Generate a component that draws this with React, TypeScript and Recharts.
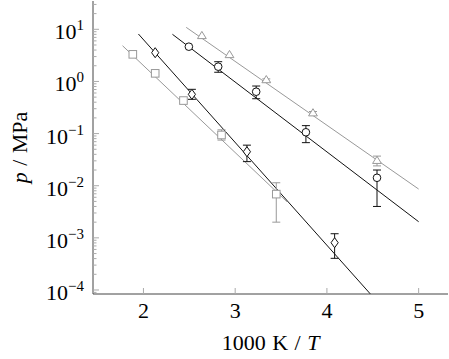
import { ComposedChart, XAxis, YAxis, Line, Scatter, ErrorBar } from 'recharts';

// reciprocal temperature, 1000 K / T
const squareX = [1.884, 2.128, 2.436, 2.851, 3.448];
const squareP = [3.31, 1.43, 0.43, 0.094, 0.0069];
const squareLow = [null, null, null, 0.075, 0.002];
const squareHigh = [null, null, null, 0.118, 0.0114];

const diamondX = [2.128, 2.528, 3.128, 4.084];
const diamondP = [3.56, 0.566, 0.0449, 0.000807];
const diamondLow = [null, 0.454, 0.029, 0.000405];
const diamondHigh = [null, 0.706, 0.06, 0.0012];

const circleX = [2.495, 2.815, 3.229, 3.771, 4.546];
const circleP = [4.64, 1.92, 0.635, 0.106, 0.0142];
const circleLow = [null, 1.5, 0.466, 0.067, 0.004];
const circleHigh = [null, 2.39, 0.817, 0.142, 0.02];

const triangleX = [2.637, 2.938, 3.339, 3.848, 4.546];
const triangleP = [7.44, 3.21, 1.06, 0.245, 0.03];
const triangleLow = [null, null, 0.98, 0.225, 0.024];
const triangleHigh = [null, null, 1.12, 0.265, 0.037];

// fitted lines (end points)
const squareFitX = [1.772, 3.565];
const squareFitP = [4.84, 0.00493];
const diamondFitX = [1.945, 4.52];
const diamondFitP = [8.13, 0.000068];
const circleFitX = [2.316, 5.0];
const circleFitP = [8.02, 0.00204];
const triangleFitX = [2.466, 5.0];
const triangleFitP = [10.9, 0.00863];

const xTicks = [2, 3, 4, 5];
const yMajorTicks = [1e-4, 1e-3, 1e-2, 1e-1, 1, 10];
const yExponents = ['−4', '−3', '−2', '−1', '0', '1'];

const X_DOMAIN = [1.45, 5.32];
const Y_DOMAIN = [8.38e-5, 34.9];

const yMinorTicks = [1e-5, ...yMajorTicks]
  .flatMap(d => [2, 3, 4, 5, 6, 7, 8, 9].map(m => m * d))
  .filter(v => v >= Y_DOMAIN[0] && v <= Y_DOMAIN[1]);
const yAllTicks = [...yMajorTicks, ...yMinorTicks].sort((a, b) => a - b);

const GRAY = '#999999';
const BLACK = '#111111';
const FRAME = '#444444';
const TICK = '#aaaaaa';
const FONT = "'Liberation Serif'";
const textStyle = { fontFamily: FONT, fontSize: 22 };

const points = (xs: number[], ps: number[], lows: (number | null)[], highs: (number | null)[]) =>
  xs.map((x, i) => ({ x, p: ps[i], low: lows[i], high: highs[i] }));
const withBars = (pts: { x: number; p: number; low: number | null; high: number | null }[]) =>
  pts
    .filter(d => d.low != null && d.high != null)
    .map(d => ({ x: d.x, p: d.p, err: [d.p - (d.low as number), (d.high as number) - d.p] }));
const fit = (xs: number[], ps: number[]) => xs.map((x, i) => ({ x, p: ps[i] }));

const squares = points(squareX, squareP, squareLow, squareHigh);
const diamonds = points(diamondX, diamondP, diamondLow, diamondHigh);
const circles = points(circleX, circleP, circleLow, circleHigh);
const triangles = points(triangleX, triangleP, triangleLow, triangleHigh);

const isMajor = (v: number) => Math.abs(Math.log10(v) - Math.round(Math.log10(v))) < 1e-6;

function LeftTick({ x, y, payload }: any) {
  const v = payload.value;
  const major = isMajor(v);
  const ax = x + 6;
  const idx = yMajorTicks.findIndex(t => Math.abs(t - v) / v < 1e-6);
  return (
    <g>
      <line x1={ax} x2={ax + (major ? 6 : 3.5)} y1={y} y2={y} stroke={TICK} />
      {major && (
        <text x={x - 3} y={y + 10} textAnchor="end" style={textStyle} fill="#000">
          10
          <tspan dy={-9} style={{ fontSize: 15 }}>{yExponents[idx]}</tspan>
        </text>
      )}
    </g>
  );
}

function RightTick({ x, y, payload }: any) {
  const major = isMajor(payload.value);
  return <line x1={x} x2={x - (major ? 6 : 3.5)} y1={y} y2={y} stroke={TICK} />;
}

function BottomTick({ x, y, payload }: any) {
  const ay = y - 6;
  return (
    <g>
      <line x1={x} x2={x} y1={ay} y2={ay - 6} stroke={TICK} />
      <text x={x} y={ay + 24} textAnchor="middle" style={textStyle} fill="#000">
        {payload.value}
      </text>
    </g>
  );
}

function TopTick({ x, y }: any) {
  return <line x1={x} x2={x} y1={y} y2={y + 6} stroke={TICK} />;
}

const Square = ({ cx, cy, color }: any) => (
  <rect x={cx - 3.8} y={cy - 3.8} width={7.6} height={7.6} fill="#fff" stroke={color} />
);
const Diamond = ({ cx, cy, color }: any) => (
  <polygon
    points={`${cx},${cy - 5} ${cx + 3.6},${cy} ${cx},${cy + 5} ${cx - 3.6},${cy}`}
    fill="#fff"
    stroke={color}
  />
);
const Circle = ({ cx, cy, color }: any) => <circle cx={cx} cy={cy} r={3.8} fill="#fff" stroke={color} />;
const Triangle = ({ cx, cy, color }: any) => (
  <polygon
    points={`${cx},${cy - 4.6} ${cx + 4.4},${cy + 2.6} ${cx - 4.4},${cy + 2.6}`}
    fill="#fff"
    stroke={color}
  />
);

const series = [
  { key: 'sq', data: squares, line: fit(squareFitX, squareFitP), color: GRAY, Mark: Square },
  { key: 'di', data: diamonds, line: fit(diamondFitX, diamondFitP), color: BLACK, Mark: Diamond },
  { key: 'ci', data: circles, line: fit(circleFitX, circleFitP), color: BLACK, Mark: Circle },
  { key: 'tr', data: triangles, line: fit(triangleFitX, triangleFitP), color: GRAY, Mark: Triangle },
];

export default function App() {
  return (
    <div style={{ position: 'absolute', left: 0, top: 0, background: '#fff', fontFamily: FONT }}>
      <ComposedChart width={449} height={359} margin={{ top: 1, right: 1, bottom: 0, left: 0 }}>
        <XAxis
          dataKey="x"
          type="number"
          domain={X_DOMAIN}
          allowDataOverflow
          ticks={xTicks}
          interval={0}
          height={65}
          tickSize={0}
          tickMargin={6}
          tick={<BottomTick />}
          axisLine={{ stroke: FRAME }}
          label={{
            position: 'insideBottom',
            content: ({ viewBox }: any) => (
              <text
                x={viewBox.x + viewBox.width / 2}
                y={viewBox.y + 56}
                textAnchor="middle"
                style={{ ...textStyle, wordSpacing: 1 }}
                fill="#000"
              >
                1000 K / <tspan fontStyle="italic">T</tspan>
              </text>
            ),
          }}
        />
        <XAxis
          xAxisId="top"
          orientation="top"
          type="number"
          domain={X_DOMAIN}
          allowDataOverflow
          ticks={xTicks}
          interval={0}
          height={0}
          tickSize={0}
          tickMargin={0}
          tick={<TopTick />}
          axisLine={{ stroke: FRAME }}
        />
        <YAxis
          dataKey="p"
          type="number"
          scale="log"
          domain={Y_DOMAIN}
          allowDataOverflow
          ticks={yAllTicks}
          interval={0}
          width={93}
          tickSize={0}
          tickMargin={6}
          tick={<LeftTick />}
          axisLine={{ stroke: FRAME }}
          label={{
            position: 'insideLeft',
            content: ({ viewBox }: any) => {
              const cx = viewBox.x + 27;
              const cy = viewBox.y + viewBox.height / 2;
              return (
                <text
                  x={cx}
                  y={cy}
                  transform={`rotate(-90 ${cx} ${cy})`}
                  textAnchor="middle"
                  style={{ ...textStyle, wordSpacing: 1 }}
                  fill="#000"
                >
                  <tspan fontStyle="italic">p</tspan> / MPa
                </text>
              );
            },
          }}
        />
        <YAxis
          yAxisId="right"
          orientation="right"
          type="number"
          scale="log"
          domain={Y_DOMAIN}
          allowDataOverflow
          ticks={yAllTicks}
          interval={0}
          width={0}
          tickSize={0}
          tickMargin={0}
          tick={<RightTick />}
          axisLine={{ stroke: FRAME }}
        />

        {series.map(s => (
          <Line
            key={`${s.key}-fit`}
            data={s.line}
            dataKey="p"
            stroke={s.color}
            strokeWidth={1}
            dot={false}
            activeDot={false}
            isAnimationActive={false}
          />
        ))}
        {series.map(s => (
          <Scatter
            key={`${s.key}-err`}
            data={withBars(s.data)}
            dataKey="p"
            shape={() => <g />}
            isAnimationActive={false}
          >
            <ErrorBar dataKey="err" direction="y" width={4} stroke={s.color} strokeWidth={1} />
          </Scatter>
        ))}
        {series.map(s => (
          <Scatter
            key={`${s.key}-mark`}
            data={s.data}
            dataKey="p"
            shape={(props: any) => <s.Mark cx={props.cx} cy={props.cy} color={s.color} />}
            isAnimationActive={false}
          />
        ))}
      </ComposedChart>
    </div>
  );
}
